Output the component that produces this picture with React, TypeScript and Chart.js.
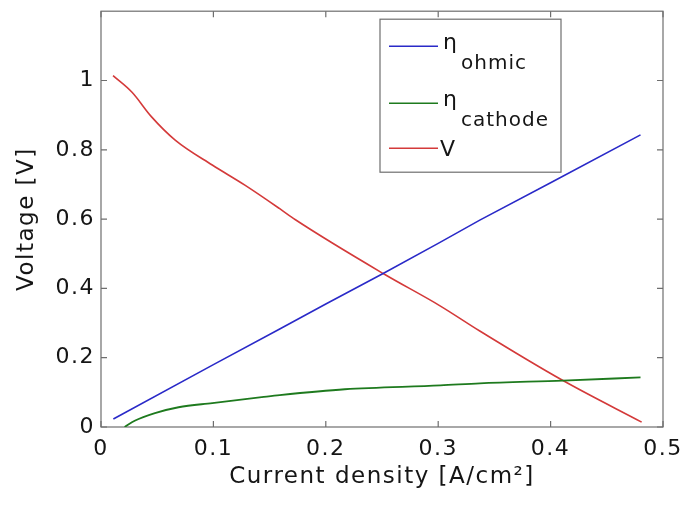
import React, { useEffect, useRef } from "react";
import { Chart, registerables } from "chart.js";

Chart.register(...registerables);

// ---- data ----
const X_TICKS = [0, 0.1, 0.2, 0.3, 0.4, 0.5];
const Y_TICKS = [0, 0.2, 0.4, 0.6, 0.8, 1];

const OHMIC_X = [0.011, 0.1, 0.159, 0.2, 0.251, 0.3, 0.337, 0.4, 0.48];
const OHMIC_Y = [0.023, 0.18, 0.283, 0.355, 0.443, 0.53, 0.597, 0.705, 0.843];

const CATH_X = [0.021, 0.03, 0.048, 0.069, 0.099, 0.143, 0.159, 0.217, 0.302, 0.337, 0.411, 0.48];
const CATH_Y = [0, 0.018, 0.04, 0.057, 0.069, 0.086, 0.092, 0.109, 0.12, 0.126, 0.134, 0.143];

const V_X = [0.0107, 0.0276, 0.045, 0.066, 0.099, 0.128, 0.159, 0.173, 0.251, 0.302, 0.337, 0.411, 0.481];
const V_Y = [1.014, 0.966, 0.895, 0.828, 0.756, 0.698, 0.63, 0.598, 0.443, 0.349, 0.277, 0.134, 0.014];

const SERIES_NAMES = ["ohmic", "cathode", "V"];
const X_TITLE = "Current density [A/cm²]";
const Y_TITLE = "Voltage [V]";

const BLUE = "#2a2ac8";
const GREEN = "#1e7a1e";
const RED = "#d43a3a";
const AXIS = "#6e6e6e";
const TEXT = "#151515";
const FONT = "DejaVu Sans";

const toPts = (xs: number[], ys: number[]) => xs.map((x, i) => ({ x, y: ys[i] }));

const spacingPlugin = {
  id: "spacing",
  beforeDraw(chart: any) {
    (chart.ctx as any).letterSpacing = "1.5px";
  },
};

const boxPlugin = {
  id: "matlabBox",
  beforeDatasetsDraw(chart: any) {
    const { ctx, chartArea: a, scales } = chart;
    ctx.save();
    ctx.strokeStyle = AXIS;
    ctx.lineWidth = 1.2;
    ctx.strokeRect(a.left, a.top, a.right - a.left, a.bottom - a.top);
    const tl = 6;
    ctx.beginPath();
    X_TICKS.forEach((v) => {
      const px = scales.x.getPixelForValue(v);
      ctx.moveTo(px, a.bottom);
      ctx.lineTo(px, a.bottom - tl);
      ctx.moveTo(px, a.top);
      ctx.lineTo(px, a.top + tl);
    });
    Y_TICKS.forEach((v) => {
      const py = scales.y.getPixelForValue(v);
      ctx.moveTo(a.left, py);
      ctx.lineTo(a.left + tl, py);
      ctx.moveTo(a.right, py);
      ctx.lineTo(a.right - tl, py);
    });
    ctx.stroke();
    ctx.restore();
  },
};

const legendPlugin = {
  id: "texLegend",
  afterDraw(chart: any) {
    const { ctx, chartArea: a } = chart;
    const bx = a.left + 279;
    const by = a.top + 8;
    const bw = 181;
    const bh = 153;
    ctx.save();
    ctx.fillStyle = "#ffffff";
    ctx.fillRect(bx, by, bw, bh);
    ctx.strokeStyle = AXIS;
    ctx.lineWidth = 1.2;
    ctx.strokeRect(bx, by, bw, bh);
    const colors = [BLUE, GREEN, RED];
    const rowY = [by + 27, by + 84, by + 129];
    ctx.textAlign = "left";
    ctx.textBaseline = "alphabetic";
    colors.forEach((c, i) => {
      const y = rowY[i];
      ctx.strokeStyle = c;
      ctx.lineWidth = 1.6;
      ctx.beginPath();
      ctx.moveTo(bx + 9, y);
      ctx.lineTo(bx + 58, y);
      ctx.stroke();
      ctx.fillStyle = TEXT;
      if (i < 2) {
        (ctx as any).letterSpacing = "0px";
        ctx.font = `22px "${FONT}"`;
        ctx.fillText("η", bx + 63, y + 3);
        (ctx as any).letterSpacing = "1px";
        ctx.font = `20px "${FONT}"`;
        ctx.fillText(SERIES_NAMES[i], bx + 81, y + 23);
      } else {
        (ctx as any).letterSpacing = "0px";
        ctx.font = `22px "${FONT}"`;
        ctx.fillText(SERIES_NAMES[i], bx + 60, y + 8);
      }
    });
    ctx.restore();
  },
};

export default function App() {
  const ref = useRef<HTMLCanvasElement | null>(null);

  useEffect(() => {
    if (!ref.current) return;
    const font = { family: FONT, size: 22 };
    const titleFont = { family: FONT, size: 23 };
    const chart = new Chart(ref.current, {
      type: "line",
      data: {
        datasets: [
          { label: "η ohmic", data: toPts(OHMIC_X, OHMIC_Y), borderColor: BLUE, borderWidth: 1.6, pointRadius: 0, fill: false },
          { label: "η cathode", data: toPts(CATH_X, CATH_Y), borderColor: GREEN, borderWidth: 1.8, pointRadius: 0, fill: false, cubicInterpolationMode: "monotone" },
          { label: "V", data: toPts(V_X, V_Y), borderColor: RED, borderWidth: 1.6, pointRadius: 0, fill: false, cubicInterpolationMode: "monotone" },
        ],
      },
      options: {
        responsive: false,
        animation: false,
        layout: { padding: { left: 0, top: 8, right: 26, bottom: 0 } },
        plugins: { legend: { display: false }, tooltip: { enabled: false } },
        scales: {
          x: {
            type: "linear",
            min: 0,
            max: 0.5,
            afterBuildTicks: (s: any) => {
              s.ticks = X_TICKS.map((v) => ({ value: v }));
            },
            afterFit: (s: any) => {
              s.height = 91;
            },
            grid: { display: false },
            border: { display: false },
            ticks: { color: TEXT, font, padding: 1, maxRotation: 0, autoSkip: false, callback: (v: any) => String(v) },
            title: { display: true, text: X_TITLE, color: TEXT, font: titleFont, padding: { top: 0, bottom: 27 } },
          },
          y: {
            type: "linear",
            min: 0,
            max: 1.2,
            afterBuildTicks: (s: any) => {
              s.ticks = Y_TICKS.map((v) => ({ value: v }));
            },
            afterFit: (s: any) => {
              s.width = 101;
            },
            grid: { display: false },
            border: { display: false },
            ticks: { color: TEXT, font, padding: -2, autoSkip: false, callback: (v: any) => String(v) },
            title: { display: true, text: Y_TITLE, color: TEXT, font: titleFont, padding: { top: 13, bottom: 0 } },
          },
        },
      },
      plugins: [spacingPlugin, boxPlugin, legendPlugin],
    } as any);
    return () => chart.destroy();
  }, []);

  return (
    <div style={{ position: "fixed", left: 0, top: 0, width: 689, height: 518, background: "#fff" }}>
      <canvas ref={ref} width={689} height={518} />
    </div>
  );
}
